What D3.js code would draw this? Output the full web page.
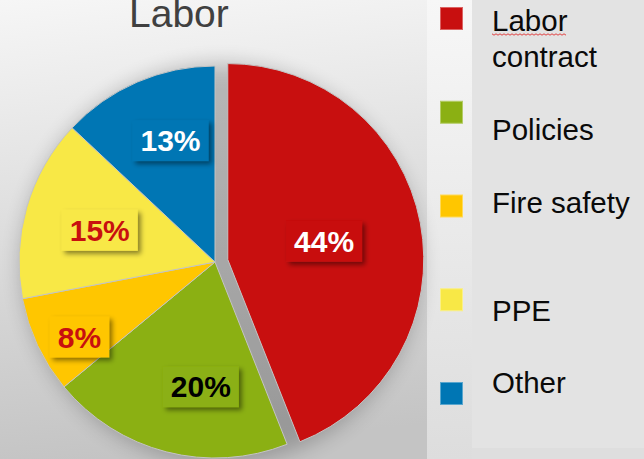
<!DOCTYPE html>
<html lang="en">
<head>
    <meta charset="UTF-8">
    <title>Labor</title>
    <script src="https://cdnjs.cloudflare.com/ajax/libs/d3/7.8.5/d3.min.js"></script>
    <style>
        body { margin: 0; overflow: hidden; }
        svg { display: block; font-family: "Liberation Sans", Arial, sans-serif; }
    </style>
</head>
<body>
    <svg width="644" height="459"></svg>
    <script>
        "use strict";

        // data
        const categories = ["Labor contract", "Policies", "Fire safety", "PPE", "Other"];
        const values = [44, 20, 8, 15, 13];
        const legendLines = [["Labor", "contract"], ["Policies"], ["Fire safety"], ["PPE"], ["Other"]];

        // style / layout
        const colors = ["#c80f0f", "#8bb013", "#ffc600", "#f8e846", "#0076b4"];
        const labelInk = ["#ffffff", "#000000", "#c8100f", "#c8100f", "#ffffff"];
        const labelPlace = [[0.5, 0.5], [0.39, 0.64], [0.37, 0.79], [0.485, 0.61], [0.57, 0.66]]; // [position in slice, radius fraction]
        const legendTextShift = [24, 39, 18, 33, 11];

        const svg = d3.select("svg");
        const width = +svg.attr("width");
        const height = +svg.attr("height");
        const defs = svg.append("defs");

        const bg = defs.append("linearGradient").attr("id", "bg")
            .attr("x1", 0).attr("y1", 0).attr("x2", 0.15).attr("y2", 1);
        bg.append("stop").attr("offset", 0).attr("stop-color", "#f6f6f6");
        bg.append("stop").attr("offset", 1).attr("stop-color", "#c4c4c4");

        const strip = defs.append("linearGradient").attr("id", "strip")
            .attr("x1", 0).attr("y1", 0).attr("x2", 0).attr("y2", 1);
        strip.append("stop").attr("offset", 0).attr("stop-color", "#f7f7f7");
        strip.append("stop").attr("offset", 1).attr("stop-color", "#dddddd");

        const halo = defs.append("filter").attr("id", "halo")
            .attr("x", "-30%").attr("y", "-30%").attr("width", "160%").attr("height", "160%");
        halo.append("feGaussianBlur").attr("stdDeviation", 10);

        const shadow = defs.append("filter").attr("id", "shadow")
            .attr("x", "-20%").attr("y", "-20%").attr("width", "150%").attr("height", "160%");
        shadow.append("feDropShadow").attr("dx", 3).attr("dy", 3).attr("stdDeviation", 2.5)
            .attr("flood-color", "#000").attr("flood-opacity", 0.45);

        svg.append("rect").attr("width", width).attr("height", height).attr("fill", "url(#bg)");

        // legend panel
        svg.append("rect").attr("x", 427).attr("y", 0).attr("width", 45).attr("height", height)
            .attr("fill", "url(#strip)");
        svg.append("rect").attr("x", 472).attr("y", 0).attr("width", width - 472).attr("height", 448)
            .attr("fill", "#e3e3e3");
        svg.append("rect").attr("x", 472).attr("y", 448).attr("width", width - 472).attr("height", height - 448)
            .attr("fill", "#dedede");

        // title
        svg.append("text")
            .attr("x", 129).attr("y", 27)
            .attr("font-size", 39)
            .attr("fill", "#404040")
            .text("Labor");

        // pie
        const cx = 215, cy = 262, r = 196, explode = 13;
        const pie = d3.pie().sort(null).value(d => d);
        const arcs = pie(values);
        const arc = d3.arc().innerRadius(0).outerRadius(r);

        const offset = (d, i) => {
            if (i !== 0) return [0, 0];
            const a = (d.startAngle + d.endAngle) / 2;
            return [explode * Math.sin(a), -explode * Math.cos(a)];
        };

        svg.append("circle").attr("cx", cx + 6).attr("cy", cy + 2).attr("r", r + 4)
            .attr("fill", "#000").attr("opacity", 0.22).attr("filter", "url(#halo)");

        const g = svg.append("g").attr("transform", `translate(${cx},${cy})`);

        g.selectAll("path.slice")
            .data(arcs)
            .enter()
            .append("path")
            .attr("class", "slice")
            .attr("d", arc)
            .attr("fill", (d, i) => colors[i])
            .attr("stroke", "#c4c4c4")
            .attr("stroke-width", 1)
            .attr("transform", (d, i) => `translate(${offset(d, i)})`);

        const labels = g.selectAll("g.label")
            .data(arcs)
            .enter()
            .append("g")
            .attr("class", "label")
            .attr("transform", (d, i) => {
                const [t, f] = labelPlace[i];
                const a = d.startAngle + t * (d.endAngle - d.startAngle);
                const [ox, oy] = offset(d, i);
                return `translate(${ox + f * r * Math.sin(a)},${oy - f * r * Math.cos(a)})`;
            });

        const boxes = labels.append("rect")
            .attr("fill", (d, i) => colors[i])
            .attr("filter", "url(#shadow)");

        const texts = labels.append("text")
            .attr("text-anchor", "middle")
            .attr("dy", "0.36em")
            .attr("font-size", 30)
            .attr("font-weight", "bold")
            .attr("fill", (d, i) => labelInk[i])
            .text(d => `${d.data}%`);

        texts.each(function (d, i) {
            const w = this.getComputedTextLength() + 16;
            d3.select(boxes.nodes()[i])
                .attr("x", -w / 2).attr("y", -20.5)
                .attr("width", w).attr("height", 41);
        });

        // legend
        const ly = d3.scaleLinear().domain([0, categories.length - 1]).range([7, 382]);
        const legend = svg.selectAll("g.legend")
            .data(categories)
            .enter()
            .append("g")
            .attr("class", "legend")
            .attr("transform", (d, i) => `translate(440,${ly(i)})`);

        legend.append("rect")
            .attr("x", 0.5).attr("y", 0.5)
            .attr("width", 22).attr("height", 22)
            .attr("fill", (d, i) => colors[i])
            .attr("stroke", (d, i) => d3.interpolateRgb(colors[i], "#ffffff")(0.35))
            .attr("stroke-width", 1);

        legend.each(function (d, i) {
            legendLines[i].forEach((line, k) => {
                d3.select(this).append("text")
                    .attr("x", 52)
                    .attr("y", legendTextShift[i] + k * 36)
                    .attr("font-size", 29.5)
                    .attr("fill", "#0a0a0a")
                    .text(line);
            });
        });

        // spell-check squiggle under "Labor"
        const squiggle = d3.range(0, 76, 2).map((x, k) => [492 + x, 34 + (k % 2 ? 1.2 : -0.2)]);
        svg.append("path")
            .attr("d", d3.line()(squiggle))
            .attr("fill", "none")
            .attr("stroke", "#e03030")
            .attr("stroke-width", 0.9);
    </script>
</body>
</html>
